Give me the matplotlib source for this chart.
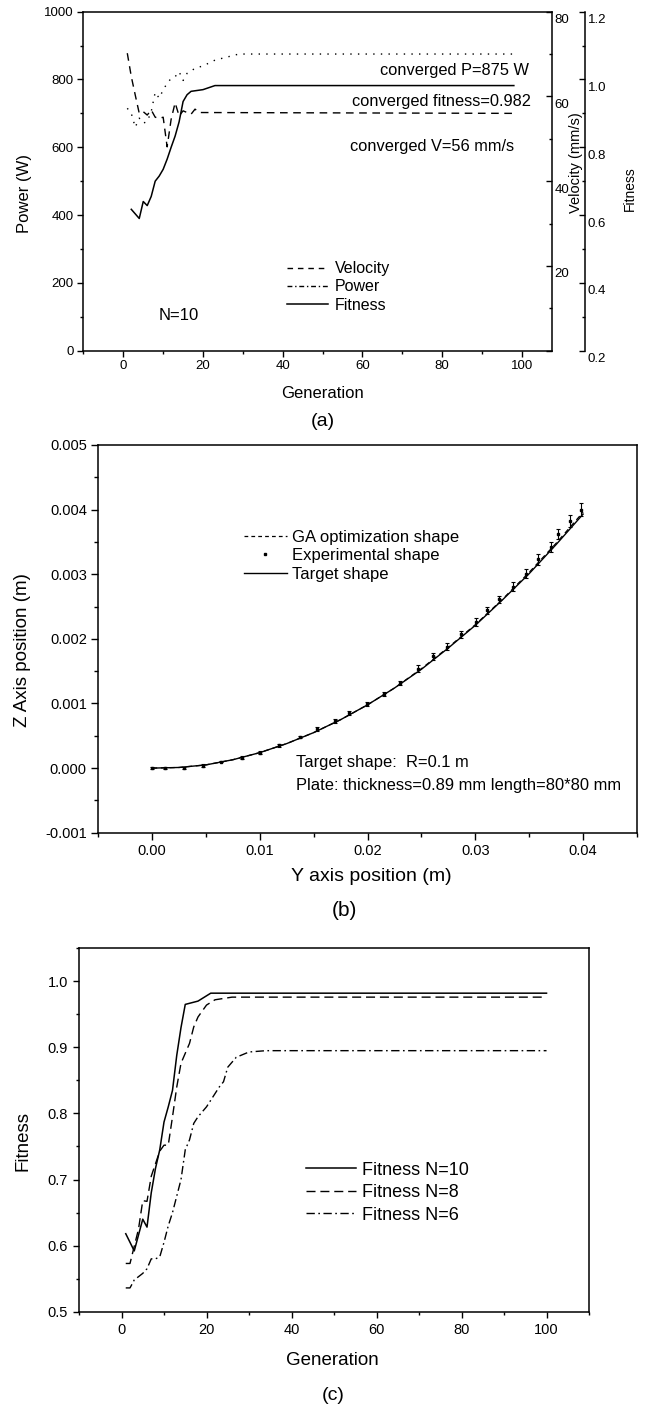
import matplotlib
matplotlib.use("Agg")
import matplotlib.pyplot as plt
from matplotlib.lines import Line2D
from matplotlib.ticker import MultipleLocator, FormatStrFormatter, FuncFormatter
from matplotlib.transforms import ScaledTranslation

plt.rcParams['font.family'] = ['Liberation Sans', 'DejaVu Sans']
plt.rcParams['axes.unicode_minus'] = False
plt.rcParams['axes.linewidth'] = 1.1

# (a) one GA run, N=10
gen_power = [1, 2, 3, 4, 5, 6, 7, 8, 9, 10, 11, 12, 13, 14, 15, 16, 17, 18, 20, 23, 26, 29, 98]
power = [715, 700, 659, 686, 671, 676, 705, 762, 745, 769, 789, 803, 808, 823, 797, 818,
         825, 833, 840, 857, 866, 875, 875]
gen_velocity = [1, 2, 3, 4, 5, 6, 7, 8, 9, 10, 11, 12, 13, 14, 15, 17, 18, 19, 98]
velocity = [70.2, 64.7, 60.3, 56.0, 56.4, 55.6, 56.8, 55.1, 54.8, 55.1, 48.1, 54.6, 58.5,
            55.4, 56.6, 55.8, 57.0, 56.2, 56.0]
gen_fitness = [2, 4, 5, 6, 7, 8, 9, 10, 11, 12, 13, 14, 15, 16, 17, 20, 23, 98]
fitness = [0.617, 0.590, 0.640, 0.628, 0.655, 0.700, 0.715, 0.735, 0.765, 0.800, 0.833,
           0.875, 0.935, 0.955, 0.965, 0.970, 0.982, 0.982]

# (b) plate shape
y_target = [0.0, 0.0025, 0.005, 0.0075, 0.01, 0.0125, 0.015, 0.0175, 0.02, 0.0225, 0.025,
            0.0275, 0.03, 0.0325, 0.035, 0.0375, 0.04]
z_target = [0.0, 0.00001, 0.00005, 0.00013, 0.00024, 0.00038, 0.00055, 0.00075, 0.00098,
            0.00124, 0.00153, 0.00186, 0.00221, 0.0026, 0.00301, 0.00346, 0.00393]
y_ga = y_target
z_ga = [0.0, 0.00001, 0.00005, 0.00013, 0.00024, 0.00038, 0.00055, 0.00075, 0.00098,
        0.00124, 0.00154, 0.00187, 0.00222, 0.00261, 0.00303, 0.00348, 0.00396]
y_exp = [0.0, 0.0012, 0.003, 0.0047, 0.0064, 0.0083, 0.01, 0.0118, 0.0137, 0.0153, 0.017,
         0.0183, 0.0199, 0.0215, 0.023, 0.0247, 0.0261, 0.0274, 0.0287, 0.0301, 0.0311,
         0.0322, 0.0335, 0.0347, 0.0358, 0.037, 0.0377, 0.0388, 0.0398]
z_exp = [0.0, 0.0, 0.0, 0.00004, 0.0001, 0.00016, 0.00024, 0.00035, 0.00048, 0.00061,
         0.00073, 0.00085, 0.00099, 0.00115, 0.00132, 0.00154, 0.00173, 0.00188, 0.00207,
         0.00226, 0.00244, 0.00261, 0.00281, 0.00301, 0.00323, 0.00342, 0.00362, 0.00382,
         0.004]
z_err = [0.00001, 0.00001, 0.00002, 0.00002, 0.00001, 0.00002, 0.00002, 0.00002, 0.00002,
         0.00003, 0.00003, 0.00003, 0.00003, 0.00003, 0.00003, 0.00005, 0.00005, 0.00005,
         0.00005, 0.00006, 0.00006, 0.00006, 0.00007, 0.00007, 0.00008, 0.00008, 0.00008,
         0.00009, 0.0001]

# (c) fitness for different N
gen_n10 = [1, 3, 5, 6, 7, 8, 9, 10, 11, 12, 13, 14, 15, 18, 21, 100]
fit_n10 = [0.618, 0.592, 0.640, 0.628, 0.680, 0.717, 0.745, 0.787, 0.810, 0.835, 0.888,
           0.930, 0.965, 0.970, 0.982, 0.982]
gen_n8 = [1, 2, 4, 5, 6, 7, 9, 10, 11, 12, 13, 14, 16, 17, 18, 20, 22, 26, 100]
fit_n8 = [0.573, 0.573, 0.625, 0.668, 0.667, 0.705, 0.743, 0.752, 0.752, 0.795, 0.840,
          0.876, 0.906, 0.931, 0.946, 0.964, 0.972, 0.976, 0.976]
gen_n6 = [1, 2, 3, 4, 5, 6, 7, 8, 9, 10, 11, 12, 13, 14, 15, 16, 17, 18, 20, 22, 23, 24,
          25, 27, 30, 34, 100]
fit_n6 = [0.536, 0.536, 0.548, 0.553, 0.558, 0.565, 0.580, 0.580, 0.583, 0.605, 0.630,
          0.650, 0.675, 0.700, 0.745, 0.760, 0.785, 0.795, 0.810, 0.830, 0.840, 0.848,
          0.870, 0.885, 0.893, 0.895, 0.895]

fig = plt.figure(figsize=(6.47, 14.05), dpi=100)


def center_label(label):
    label.set_verticalalignment('center')
    label.set_horizontalalignment('center')


# ---------------- (a) ----------------
ax1 = fig.add_axes([0.129, 0.7504, 0.7237, 0.2413])
axv = ax1.twinx()
axf = ax1.twinx()
axf.spines['right'].set_position(('axes', 1.0711))
for s in ['top', 'left', 'bottom']:
    axv.spines[s].set_visible(False)
    axf.spines[s].set_visible(False)
ax1.spines['right'].set_visible(False)

ax1.plot(gen_power, power, color='k', lw=1.0, dashes=(1, 4.5))
axv.plot(gen_velocity, velocity, color='k', lw=1.0, dashes=(5.5, 4))
axf.plot(gen_fitness, fitness, color='k', lw=1.1)

ax1.set_xlim(-10, 107.5)
ax1.set_ylim(0, 1000)
axv.set_ylim(0, 80)
axf.set_ylim(0.2, 1.2)

ax1.xaxis.set_major_locator(MultipleLocator(20))
ax1.xaxis.set_minor_locator(MultipleLocator(10))
ax1.yaxis.set_major_locator(MultipleLocator(200))
ax1.yaxis.set_minor_locator(MultipleLocator(100))
ax1.tick_params(which='both', direction='out', top=False, right=False, labelsize=9.5,
                width=1.0)
ax1.tick_params(which='major', length=4, pad=3)
ax1.tick_params(which='minor', length=2.3)

axv.yaxis.set_major_locator(MultipleLocator(20))
axv.yaxis.set_minor_locator(MultipleLocator(10))
axv.yaxis.set_major_formatter(FuncFormatter(lambda v, p: '' if v == 0 else f'{v:.0f}'))
axv.tick_params(axis='y', which='both', direction='in', labelsize=9.5, width=1.0, pad=2)
axv.tick_params(axis='y', which='major', length=4)
axv.tick_params(axis='y', which='minor', length=2.3)

axf.yaxis.set_major_locator(MultipleLocator(0.2))
axf.yaxis.set_minor_locator(MultipleLocator(0.1))
axf.yaxis.set_major_formatter(FormatStrFormatter('%.1f'))
axf.tick_params(axis='y', which='both', direction='in', labelsize=9.5, width=1.0, pad=2)
axf.tick_params(axis='y', which='major', length=4)
axf.tick_params(axis='y', which='minor', length=2.3)

# right-hand tick labels sit a little below their ticks
shift_down = ScaledTranslation(0, -5 / 72, fig.dpi_scale_trans)
for ax in (axv, axf):
    for tick in ax.yaxis.get_major_ticks():
        tick.label2.set_transform(tick.label2.get_transform() + shift_down)

ax1.set_xlabel('Generation', fontsize=12)
ax1.xaxis.set_label_coords(0.511, -0.125)
center_label(ax1.xaxis.label)
ax1.set_ylabel('Power (W)', fontsize=12)
ax1.yaxis.set_label_coords(-0.125, 0.465)
center_label(ax1.yaxis.label)
axv.set_ylabel('Velocity (mm/s)', fontsize=10.5)
axv.yaxis.set_label_coords(1.052, 0.554)
center_label(axv.yaxis.label)
axf.set_ylabel('Fitness', fontsize=10)
axf.yaxis.set_label_coords(1.167, 0.477)
center_label(axf.yaxis.label)

ax1.text(0.9515, 0.825, 'converged P=875 W', transform=ax1.transAxes, ha='right',
         va='center', fontsize=11.8)
ax1.text(0.9558, 0.7336, 'converged fitness=0.982', transform=ax1.transAxes, ha='right',
         va='center', fontsize=11.8)
ax1.text(0.9208, 0.601, 'converged V=56 mm/s', transform=ax1.transAxes, ha='right',
         va='center', fontsize=11.8)
ax1.text(0.16, 0.105, 'N=10', transform=ax1.transAxes, ha='left', va='center',
         fontsize=12)

handles_a = [Line2D([], [], color='k', lw=1.0, dashes=(4, 3.5)),
             Line2D([], [], color='k', lw=1.0, dashes=(3.5, 2, 1, 2)),
             Line2D([], [], color='k', lw=1.1)]
ax1.legend(handles_a, ['Velocity', 'Power', 'Fitness'], loc='center left',
           bbox_to_anchor=(0.4346, 0.188), frameon=False, fontsize=11.5,
           handlelength=2.6, handletextpad=0.4, labelspacing=0.2, borderpad=0,
           borderaxespad=0)

fig.text(0.499, 1 - 421.7 / 1405, '(a)', ha='center', va='center', fontsize=14)

# ---------------- (b) ----------------
ax2 = fig.add_axes([0.1519, 0.4073, 0.8326, 0.2760])
ax2.plot(y_ga, z_ga, color='k', lw=0.9, dashes=(4, 3))
ax2.errorbar(y_exp, z_exp, yerr=z_err, fmt='s', ms=1.7, color='k', ecolor='k',
             elinewidth=0.8, capsize=1.7, capthick=0.8)
ax2.plot(y_target, z_target, color='k', lw=1.0)

ax2.set_xlim(-0.005, 0.045)
ax2.set_ylim(-0.001, 0.005)
ax2.xaxis.set_major_locator(MultipleLocator(0.01))
ax2.xaxis.set_minor_locator(MultipleLocator(0.005))
ax2.xaxis.set_major_formatter(FormatStrFormatter('%.2f'))
ax2.yaxis.set_major_locator(MultipleLocator(0.001))
ax2.yaxis.set_minor_locator(MultipleLocator(0.0005))
ax2.yaxis.set_major_formatter(FormatStrFormatter('%.3f'))
ax2.tick_params(which='both', direction='out', top=False, right=False, labelsize=10.5,
                width=1.0)
ax2.tick_params(which='major', length=4.8, pad=3.5)
ax2.tick_params(which='minor', length=3)

ax2.set_xlabel('Y axis position (m)', fontsize=14)
ax2.xaxis.set_label_coords(0.5075, -0.114)
center_label(ax2.xaxis.label)
ax2.set_ylabel('Z Axis position (m)', fontsize=13.5)
ax2.yaxis.set_label_coords(-0.14, 0.471)
center_label(ax2.yaxis.label)

ax2.text(0.367, 0.18, 'Target shape:  R=0.1 m', transform=ax2.transAxes, ha='left',
         va='center', fontsize=11.9)
ax2.text(0.367, 0.123, 'Plate: thickness=0.89 mm length=80*80 mm', transform=ax2.transAxes,
         ha='left', va='center', fontsize=11.9)

handles_b = [Line2D([], [], color='k', lw=0.9, dashes=(3, 2.5)),
             Line2D([], [], ls='none', marker='s', ms=1.7, color='k'),
             Line2D([], [], color='k', lw=1.0)]
ax2.legend(handles_b, ['GA optimization shape', 'Experimental shape', 'Target shape'],
           loc='center left', bbox_to_anchor=(0.2705, 0.7145), frameon=False, fontsize=12,
           handlelength=2.57, handletextpad=0.3, labelspacing=0.2, borderpad=0,
           borderaxespad=0)

fig.text(0.532, 1 - 910 / 1405, '(b)', ha='center', va='center', fontsize=15)

# ---------------- (c) ----------------
ax3 = fig.add_axes([0.1221, 0.0664, 0.7883, 0.2587])
ax3.plot(gen_n10, fit_n10, color='k', lw=1.1, label='Fitness N=10')
ax3.plot(gen_n8, fit_n8, color='k', lw=1.0, dashes=(6.5, 3.5), label='Fitness N=8')
ax3.plot(gen_n6, fit_n6, color='k', lw=1.0, dashes=(6, 2.5, 1.2, 2.5), label='Fitness N=6')

ax3.set_xlim(-10, 110)
ax3.set_ylim(0.5, 1.05)
ax3.xaxis.set_major_locator(MultipleLocator(20))
ax3.xaxis.set_minor_locator(MultipleLocator(10))
ax3.yaxis.set_major_locator(MultipleLocator(0.1))
ax3.yaxis.set_minor_locator(MultipleLocator(0.05))
ax3.yaxis.set_major_formatter(FormatStrFormatter('%.1f'))
ax3.tick_params(which='both', direction='out', top=False, right=False, labelsize=10.5,
                width=1.0)
ax3.tick_params(which='major', length=4.5, pad=3.5)
ax3.tick_params(which='minor', length=2.5)

ax3.set_xlabel('Generation', fontsize=13.5)
ax3.xaxis.set_label_coords(0.497, -0.133)
center_label(ax3.xaxis.label)
ax3.set_ylabel('Fitness', fontsize=13.5)
ax3.yaxis.set_label_coords(-0.1106, 0.4706)
center_label(ax3.yaxis.label)

ax3.legend(loc='center left', bbox_to_anchor=(0.446, 0.3275), frameon=False, fontsize=13,
           handlelength=2.74, handletextpad=0.33, labelspacing=0.3, borderpad=0,
           borderaxespad=0)

fig.text(0.515, 1 - 1395 / 1405, '(c)', ha='center', va='center', fontsize=14)

fig.savefig('out.png', dpi=100)
